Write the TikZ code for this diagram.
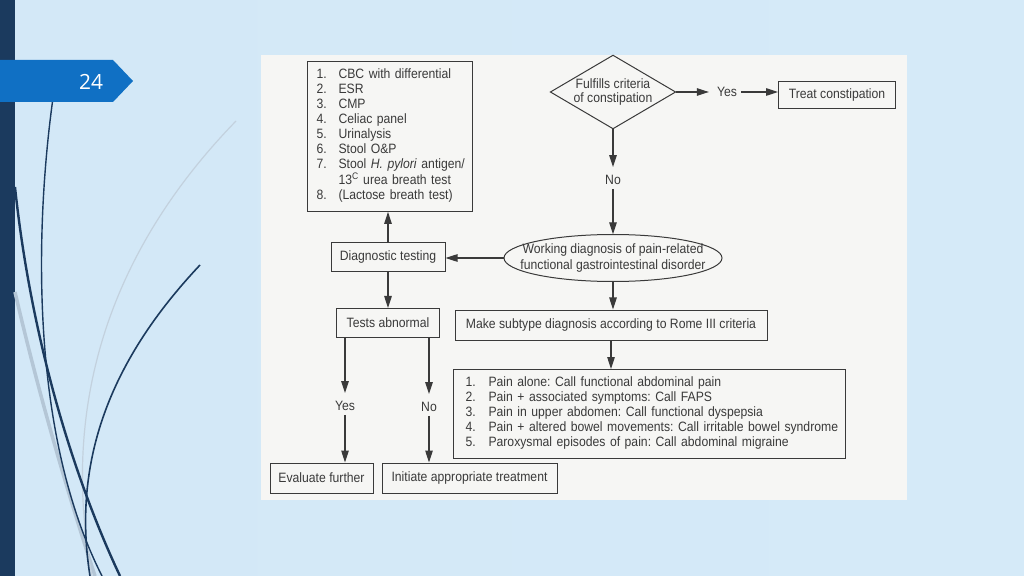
\documentclass[tikz,border=0pt]{standalone}
\usepackage{fontspec}
\setmainfont{Liberation Sans}[FakeStretch=0.9]
\newfontfamily\slidefont{Open Sans}
\usetikzlibrary{arrows.meta,shapes.geometric}
\frenchspacing
\definecolor{bgleft}{HTML}{D3E8F7}
\definecolor{bgmid}{HTML}{E5F2FC}
\definecolor{bgright}{HTML}{D5EAF8}
\definecolor{navy}{HTML}{1B3A5E}
\definecolor{tabblue}{HTML}{1070C4}
\definecolor{swoosh}{HTML}{B4C6D6}
\definecolor{ink}{HTML}{3A3A3A}
\definecolor{paper}{HTML}{F6F6F4}
\tikzset{
  box/.style={draw=ink, line width=1bp, text=ink, inner sep=3bp},
  lbl/.style={text=ink, inner sep=4bp},
  arrow/.style={draw=ink, line width=1.1bp, -{Triangle[length=12bp,width=7.5bp]}},
  flowfont/.style={font=\fontsize{13.6}{15}\selectfont}
}
\begin{document}
\begin{tikzpicture}[x=1bp,y=-1bp,flowfont]
\useasboundingbox (0,0) rectangle (1024,576);
% slide background
\shade[left color=bgleft, middle color=bgmid, right color=bgright] (0,0) rectangle (1024,576);
\fill[navy] (0,0) rectangle (15,576);
\draw[swoosh, line width=3.5bp] (15,292) .. controls (40,400) and (70,500) .. (95,576);
\draw[swoosh!80!white, line width=1.2bp] (236,121) .. controls (130,230) and (55,380) .. (92,576);
\draw[navy, line width=2.4bp] (15,187) .. controls (30,330) and (70,470) .. (120,576);
\draw[navy, line width=1.4bp] (53,98) .. controls (36,220) and (28,430) .. (102,576);
\draw[navy, line width=1.6bp] (200,265) .. controls (120,350) and (70,450) .. (90,576);
\fill[tabblue] (0,60) -- (113,60) -- (133,81) -- (113,102) -- (0,102) -- cycle;
\node[text=white, font=\slidefont\fontsize{21}{24}\selectfont] (pagenum) at (91,82) {24};
% figure
\fill[paper] (261,55) rectangle (907,500);

\node[box, anchor=north west, inner xsep=9bp, inner ysep=7bp, text width=147bp, align=left] (tests) at (307,61)
  {\begin{tabular}{@{}p{22bp}@{}l@{}}
   1. & CBC with differential\\
   2. & ESR\\
   3. & CMP\\
   4. & Celiac panel\\
   5. & Urinalysis\\
   6. & Stool O\&P\\
   7. & Stool \textit{H. pylori} antigen/\\
      & 13\textsuperscript{C} urea breath test\\
   8. & (Lactose breath test)
   \end{tabular}};
\node[diamond, draw=ink, line width=1bp, text=ink, aspect=1.7, minimum width=123bp, minimum height=72bp, inner sep=0pt, align=center] (crit) at (613,92) {Fulfills criteria\\of constipation};
\node[lbl] (yes1) at (727,92) {Yes};
\node[box, minimum width=117bp, minimum height=27bp] (treat) at (837,95) {Treat constipation};
\node[lbl] (no1) at (613,180) {No};
\node[text=ink, minimum width=217bp, minimum height=47bp, inner sep=0pt, align=center] (work) at (613,258)
  {Working diagnosis of pain-related\\[2bp]functional gastrointestinal disorder};
\draw[ink, line width=1bp] (work.center) ellipse [x radius=109bp, y radius=23.5bp];
\node[box, minimum width=114bp, minimum height=28bp] (diag) at (388,257) {Diagnostic testing};
\node[box, minimum width=103bp, minimum height=29bp] (abn) at (388,323) {Tests abnormal};
\node[box, minimum width=312bp, minimum height=30bp] (sub) at (611,325) {Make subtype diagnosis according to Rome III criteria};
\node[box, anchor=north west, inner xsep=12bp, inner ysep=7bp, text width=368bp, align=left] (rome) at (453,369)
  {\begin{tabular}{@{}p{23bp}@{}l@{}}
   1. & Pain alone: Call functional abdominal pain\\
   2. & Pain + associated symptoms: Call FAPS\\
   3. & Pain in upper abdomen: Call functional dyspepsia\\
   4. & Pain + altered bowel movements: Call irritable bowel syndrome\\
   5. & Paroxysmal episodes of pain: Call abdominal migraine
   \end{tabular}};
\node[lbl] (yes2) at (345,406) {Yes};
\node[lbl] (no2) at (429,407) {No};
\node[box, minimum width=103bp, minimum height=30bp] (eval) at (321.5,478) {Evaluate further};
\node[box, minimum width=175bp, minimum height=30bp] (init) at (469.5,478) {Initiate appropriate treatment};

\draw[arrow, shorten >=4bp] (crit.east) -- (yes1.west);
\draw[arrow] (yes1.east) -- (yes1.east -| treat.west);
\draw[arrow, shorten >=4bp] (crit.south) -- (no1.north);
\draw[arrow] (no1.south) -- (work.north);
\draw[arrow] (work.west) -- (work.west -| diag.east);
\draw[arrow] (diag.north) -- (diag.north |- tests.south);
\draw[arrow] (diag.south) -- (abn.north);
\draw[arrow] (work.south) -- (work.south |- sub.north);
\draw[arrow] (sub.south) -- (sub.south |- rome.north);
\draw[arrow, shorten >=4bp] (abn.south -| yes2.north) -- (yes2.north);
\draw[arrow, shorten >=4bp] (abn.south -| no2.north) -- (no2.north);
\draw[arrow] (yes2.south) -- (yes2.south |- eval.north);
\draw[arrow] (no2.south) -- (no2.south |- init.north);
\end{tikzpicture}
\end{document}
